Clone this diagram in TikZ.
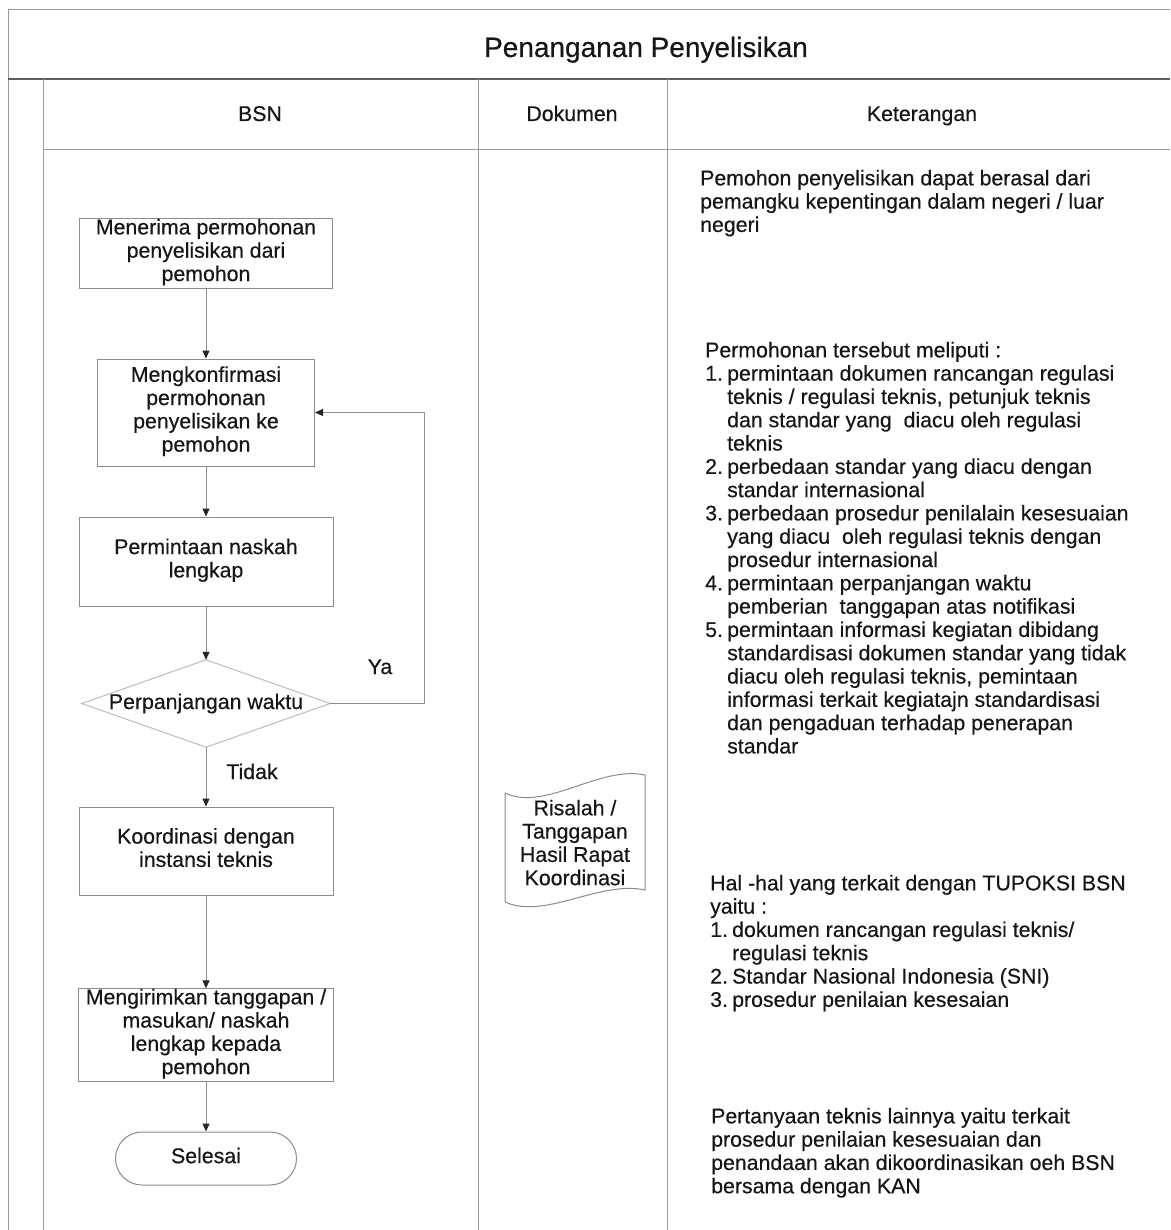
\documentclass[tikz,border=0pt]{standalone}
\usepackage{fontspec}
\setmainfont{Liberation Sans}
\newfontfamily\bodyfont{Liberation Sans}[FakeBold=0.4]
\usetikzlibrary{arrows.meta}
\definecolor{gridc}{HTML}{9A9A9A}
\definecolor{titlec}{HTML}{5E5E5E}
\definecolor{boxc}{HTML}{8C8C8C}
\definecolor{diac}{HTML}{BDBDBD}
\definecolor{txtc}{HTML}{161616}
\definecolor{arrc}{HTML}{8E8E8E}
\definecolor{tipc}{HTML}{262626}
\newcommand\fsz{\bodyfont\fontsize{21.3}{23.3}\selectfont}
\newcommand\Inum[1]{\makebox[22pt][l]{#1}}
\newcommand\Iind{\hspace*{22pt}}
\begin{document}
\begin{tikzpicture}[x=1pt,y=-1pt,
  every node/.style={text=txtc, font=\fsz, inner sep=0pt},
  gridline/.style={draw=gridc, line width=1pt},
  titleline/.style={draw=titlec, line width=1.4pt},
  procbox/.style={draw=boxc, line width=1pt, align=center,
    execute at begin node=\strut, execute at end node=\strut},
  diaedge/.style={draw=diac, line width=1pt},
  docedge/.style={draw=boxc, line width=1pt},
  arr/.style={draw=arrc, line width=1pt, -{Triangle[width=7pt,length=8pt,color=tipc]}},
  para/.style={anchor=north west, align=left, execute at begin node=\strut},
  lbl/.style={anchor=base}
]
\useasboundingbox[fill=white] (0,0) rectangle (1170,1230);

% table frame
\draw[gridline] (8,10) -- (1170,10);
\draw[gridline] (8,10) -- (8,1230);
\draw[titleline] (8,79) -- (1170,79);
\draw[gridline] (43,79) -- (43,1230);
\draw[gridline] (43,150) -- (1170,150);
\draw[gridline] (478,79) -- (478,1230);
\draw[gridline] (667,79) -- (667,1230);

% headings
\node[lbl, font={\bodyfont\fontsize{28}{32}\selectfont}] (ttl) at (646,57) {Penanganan Penyelisikan};
\node[lbl] (hbsn) at (260,121) {BSN};
\node[lbl] (hdok) at (572,121) {Dokumen};
\node[lbl] (hket) at (922,121) {Keterangan};

% flowchart
\node[procbox, minimum width=253, minimum height=69] (b1) at (206,253.5)
  {Menerima permohonan\\penyelisikan dari\\pemohon};
\node[procbox, minimum width=217, minimum height=107] (b2) at (206,412.5)
  {Mengkonfirmasi\\permohonan\\penyelisikan ke\\pemohon};
\node[procbox, minimum width=254, minimum height=89] (b3) at (206,561.5)
  {Permintaan naskah\\lengkap};
\node[minimum width=248, minimum height=87, align=center] (dia) at (206,703.5)
  {Perpanjangan waktu};
\draw[diaedge] (dia.north) -- (dia.east) -- (dia.south) -- (dia.west) -- cycle;
\node[procbox, minimum width=254, minimum height=88] (b4) at (206,851)
  {Koordinasi dengan\\instansi teknis};
\node[procbox, minimum width=255, minimum height=90] (b5) at (206,1035)
  {Mengirimkan tanggapan /\\masukan/ naskah\\lengkap kepada\\pemohon};
\node[procbox, rounded corners=26.5pt, minimum width=181, minimum height=53] (fin) at (206,1158.5)
  {Selesai};

\coordinate (loop) at (424,412.5);
\draw[arr] (b1.south) -- (b2.north);
\draw[arr] (b2.south) -- (b3.north);
\draw[arr] (b3.south) -- (dia.north);
\draw[arr] (dia.south) -- (b4.north);
\draw[arr] (dia.east) -| (loop) -- (b2.east);
\draw[arr] (b4.south) -- (b5.north);
\draw[arr] (b5.south) -- (fin.north);

\node[lbl] (lya) at (380,674) {Ya};
\node[lbl] (ltd) at (252,779) {Tidak};

% document
\node[align=center, execute at begin node=\strut, execute at end node=\strut] (doc) at (575,846)
  {Risalah /\\Tanggapan\\Hasil Rapat\\Koordinasi};
\draw[docedge] (505,793) .. controls (545,812) and (600,765) .. (645,775)
  -- (645,890) .. controls (600,880) and (545,920) .. (505,902) -- cycle;

% keterangan
\node[para] (k1) at (700,169.7)
  {Pemohon penyelisikan dapat berasal dari\\
   pemangku kepentingan dalam negeri / luar\\
   negeri};
\node[para] (k2) at (705,341.7)
  {Permohonan tersebut meliputi :\\
   \Inum{1.}permintaan dokumen rancangan regulasi\\
   \Iind teknis / regulasi teknis, petunjuk teknis\\
   \Iind dan standar yang\ \ diacu oleh regulasi\\
   \Iind teknis\\
   \Inum{2.}perbedaan standar yang diacu dengan\\
   \Iind standar internasional\\
   \Inum{3.}perbedaan prosedur penilalain kesesuaian\\
   \Iind yang diacu\ \ oleh regulasi teknis dengan\\
   \Iind prosedur internasional\\
   \Inum{4.}permintaan perpanjangan waktu\\
   \Iind pemberian\ \ tanggapan atas notifikasi\\
   \Inum{5.}permintaan informasi kegiatan dibidang\\
   \Iind standardisasi dokumen standar yang tidak\\
   \Iind diacu oleh regulasi teknis, pemintaan\\
   \Iind informasi terkait kegiatajn standardisasi\\
   \Iind dan pengaduan terhadap penerapan\\
   \Iind standar};
\node[para] (k3) at (710,874.7)
  {Hal -hal yang terkait dengan TUPOKSI BSN\\
   yaitu :\\
   \Inum{1.}dokumen rancangan regulasi teknis/\\
   \Iind regulasi teknis\\
   \Inum{2.}Standar Nasional Indonesia (SNI)\\
   \Inum{3.}prosedur penilaian kesesaian};
\node[para] (k4) at (711,1107.7)
  {Pertanyaan teknis lainnya yaitu terkait\\
   prosedur penilaian kesesuaian dan\\
   penandaan akan dikoordinasikan oeh BSN\\
   bersama dengan KAN};
\end{tikzpicture}
\end{document}
